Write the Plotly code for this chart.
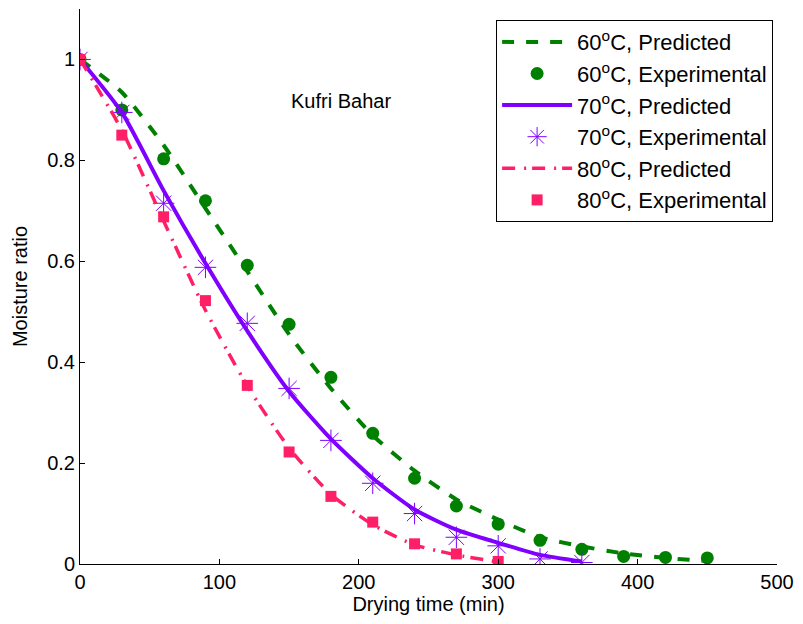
import plotly.graph_objects as go

# ---- data ----
t_pred60 = [0, 30, 60, 90, 120, 150, 180, 210, 240, 270, 300, 330, 360, 390, 420, 450]
mr_pred60 = [1.0, 0.935, 0.83, 0.705, 0.58, 0.455, 0.348, 0.255, 0.185, 0.128, 0.088, 0.053, 0.035, 0.021, 0.012, 0.006]
t_exp60 = [0, 30, 60, 90, 120, 150, 180, 210, 240, 270, 300, 330, 360, 390, 420, 450]
mr_exp60 = [1.0, 0.9, 0.803, 0.72, 0.592, 0.475, 0.37, 0.259, 0.17, 0.115, 0.079, 0.047, 0.029, 0.015, 0.013, 0.012]

t_pred70 = [0, 30, 60, 90, 120, 150, 180, 210, 240, 270, 300, 330, 360]
mr_pred70 = [1.0, 0.895, 0.74, 0.596, 0.462, 0.342, 0.248, 0.17, 0.108, 0.068, 0.042, 0.018, 0.005]
t_exp70 = [0, 30, 60, 90, 120, 150, 180, 210, 240, 270, 300, 330, 360]
mr_exp70 = [1.0, 0.895, 0.715, 0.588, 0.477, 0.348, 0.245, 0.16, 0.1, 0.053, 0.036, 0.01, 0.003]

t_pred80 = [0, 30, 60, 90, 120, 150, 180, 210, 240, 270, 300]
mr_pred80 = [1.0, 0.86, 0.68, 0.503, 0.353, 0.23, 0.138, 0.078, 0.038, 0.018, 0.004]
t_exp80 = [0, 30, 60, 90, 120, 150, 180, 210, 240, 270, 300]
mr_exp80 = [1.0, 0.85, 0.688, 0.522, 0.354, 0.222, 0.134, 0.083, 0.04, 0.02, 0.005]

x_ticks = [0, 100, 200, 300, 400, 500]
y_ticks = [0, 0.2, 0.4, 0.6, 0.8, 1]
y_tick_text = ["0", "0.2", "0.4", "0.6", "0.8", "1"]

GREEN = "#008000"
PURPLE = "#7f00ff"
PINK = "#ff1f66"
FONT = "Liberation Sans, Arial, sans-serif"
FS = 20

fig = go.Figure()
fig.add_trace(go.Scatter(x=t_pred60, y=mr_pred60, mode="lines", name="60<sup>o</sup>C, Predicted",
                         line=dict(color=GREEN, width=4, dash="dash", shape="spline", smoothing=0.6)))
fig.add_trace(go.Scatter(x=t_exp60, y=mr_exp60, mode="markers", name="60<sup>o</sup>C, Experimental",
                         marker=dict(color=GREEN, size=13, symbol="circle")))
fig.add_trace(go.Scatter(x=t_pred70, y=mr_pred70, mode="lines", name="70<sup>o</sup>C, Predicted",
                         line=dict(color=PURPLE, width=4, shape="spline", smoothing=0.6)))
fig.add_trace(go.Scatter(x=t_exp70, y=mr_exp70, mode="markers", name="70<sup>o</sup>C, Experimental",
                         marker=dict(color=PURPLE, size=18, symbol="asterisk-open",
                                     line=dict(color=PURPLE, width=1))))
fig.add_trace(go.Scatter(x=t_pred80, y=mr_pred80, mode="lines", name="80<sup>o</sup>C, Predicted",
                         line=dict(color=PINK, width=3.5, dash="13px,9px,2px,6px", shape="spline", smoothing=0.6)))
fig.add_trace(go.Scatter(x=t_exp80, y=mr_exp80, mode="markers", name="80<sup>o</sup>C, Experimental",
                         marker=dict(color=PINK, size=11, symbol="square")))

fig.add_annotation(x=187, y=0.918, xref="x", yref="y", text="Kufri Bahar", showarrow=False,
                   font=dict(family=FONT, size=FS, color="black"))

fig.update_layout(
    width=803, height=624,
    margin=dict(l=80, r=19, t=9, b=60),
    paper_bgcolor="white", plot_bgcolor="white",
    font=dict(family=FONT, size=FS, color="black"),
    showlegend=True,
    legend=dict(x=0.597, y=0.98, xanchor="left", yanchor="top",
                bgcolor="white", bordercolor="black", borderwidth=1,
                font=dict(family=FONT, size=22, color="black"),
                itemwidth=70, tracegroupgap=0),
    xaxis=dict(range=[0, 500], tickvals=x_ticks, ticks="inside", ticklen=5, tickcolor="black",
               showline=True, linecolor="black", linewidth=1, showgrid=False, zeroline=False,
               title=dict(text="Drying time (min)", font=dict(size=FS), standoff=4),
               tickfont=dict(size=FS)),
    yaxis=dict(range=[0, 1.1], tickvals=y_ticks, ticktext=y_tick_text, ticks="inside", ticklen=5,
               tickcolor="black", showline=True, linecolor="black", linewidth=1, showgrid=False,
               zeroline=False, title=dict(text="Moisture ratio", font=dict(size=FS), standoff=14),
               tickfont=dict(size=FS)),
)

fig.write_html("out.html")
